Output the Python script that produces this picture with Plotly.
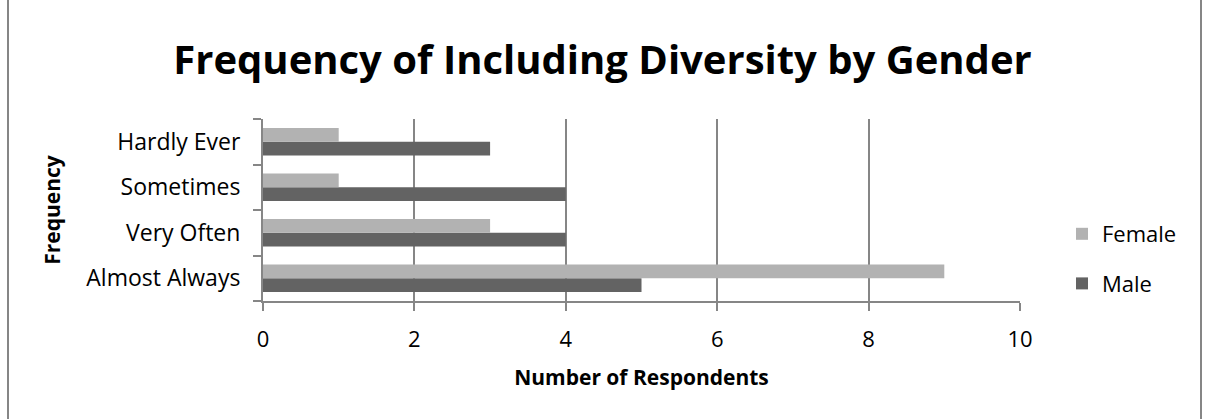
import plotly.graph_objects as go

categories = ["Almost Always", "Very Often", "Sometimes", "Hardly Ever"]
female = [9, 3, 1, 1]
male = [5, 4, 4, 3]
x_ticks = [0, 2, 4, 6, 8, 10]

W, H = 1205, 419
L, R, T, B = 263, 185, 119, 118
pw = W - L - R
ph = H - T - B

FONT = "Open Sans"
GRID = "#868686"

fig = go.Figure()
fig.add_trace(go.Bar(y=categories, x=male, name="Male", orientation="h", legendrank=2,
                     legendgroup="m",
                     marker=dict(color="#636363", line=dict(width=0))))
fig.add_trace(go.Bar(y=categories, x=female, name="Female", orientation="h", legendrank=1,
                     legendgroup="f",
                     marker=dict(color="#B2B2B2", line=dict(width=0))))

def px_x(px):
    return (px - L) / pw

def px_y(py):
    return (H - B - py) / ph

fig.update_layout(
    width=W, height=H,
    margin=dict(l=L, r=R, t=T, b=B, autoexpand=False),
    paper_bgcolor="white", plot_bgcolor="white",
    barmode="group", bargap=0.4, bargroupgap=0,
    font=dict(family=FONT, color="black", size=22),
    title=dict(text="<b>Frequency of Including Diversity by Gender</b>",
               x=0.5, xanchor="center", y=1 - 60 / H, yanchor="middle",
               font=dict(family=FONT, size=40, color="black")),
    xaxis=dict(range=[0, 10], tickvals=x_ticks, showgrid=True, gridcolor=GRID, gridwidth=2,
               showline=True, linecolor=GRID, linewidth=2, ticks="outside", ticklen=8,
               tickcolor=GRID, tickwidth=2, zeroline=False, ticklabelstandoff=10,
               tickfont=dict(size=22, family=FONT),
               title=dict(text="<b>Number of Respondents</b>", font=dict(size=21, family=FONT), standoff=18)),
    yaxis=dict(type="category", categoryorder="array", categoryarray=categories,
               showline=True, linecolor=GRID, linewidth=2, ticks="outside", ticklen=8,
               tickcolor=GRID, tickwidth=2, tickson="boundaries", showgrid=False,
               ticklabelstandoff=16,
               tickfont=dict(size=23, family=FONT),
               title=dict(text="<b>Frequency</b>", font=dict(size=21, family=FONT), standoff=20)),
    legend=dict(x=px_x(1062), xanchor="left", y=px_y(259), yanchor="middle",
                traceorder="grouped", font=dict(size=22, family=FONT),
                itemsizing="constant", tracegroupgap=18, itemwidth=30),
    shapes=[
        dict(type="line", xref="paper", yref="paper", x0=px_x(8), x1=px_x(8), y0=-2, y1=3,
             line=dict(color=GRID, width=2)),
        dict(type="line", xref="paper", yref="paper", x0=px_x(1201), x1=px_x(1201), y0=-2, y1=3,
             line=dict(color=GRID, width=2)),
    ],
    showlegend=True,
)

fig.write_html("out.html")
